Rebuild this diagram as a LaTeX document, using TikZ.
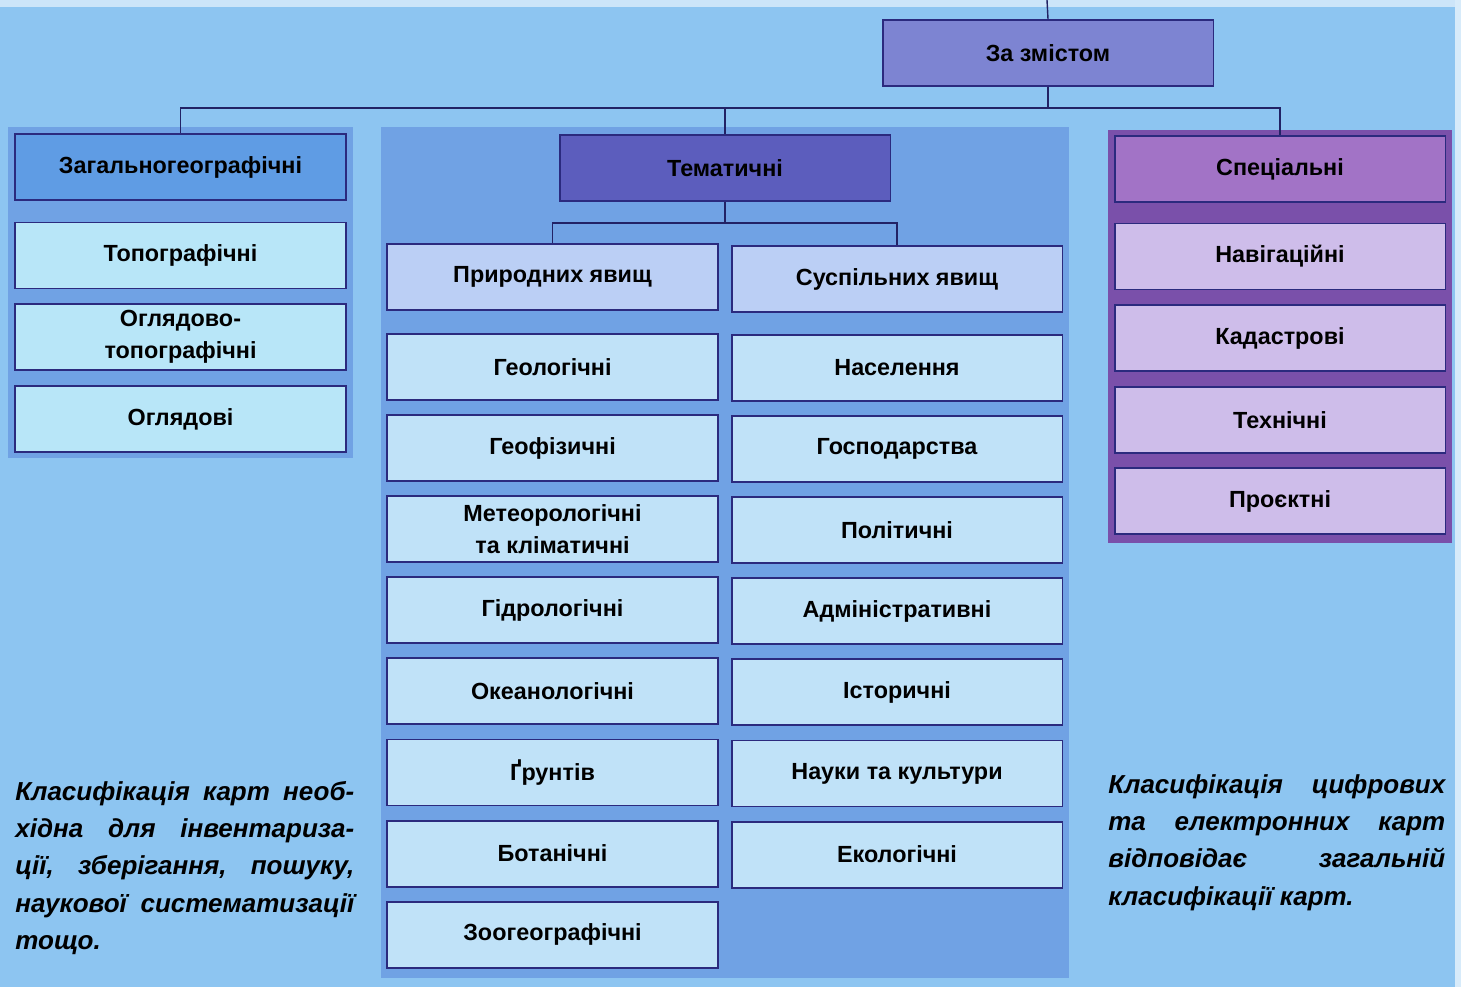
\documentclass[tikz,border=0pt]{standalone}
\usepackage{fontspec}
\setmainfont{Liberation Sans}
\usetikzlibrary{positioning}

\definecolor{bgblue}{HTML}{8DC5F1}
\definecolor{panelblue}{HTML}{70A2E4}
\definecolor{panelviolet}{HTML}{7A50AA}
\definecolor{navy}{HTML}{2B2A7E}
\definecolor{rootfill}{HTML}{7D84D2}
\definecolor{genfill}{HTML}{5F9CE4}
\definecolor{themfill}{HTML}{5C5DBD}
\definecolor{specfill}{HTML}{A273C6}
\definecolor{cyanfill}{HTML}{B8E6F8}
\definecolor{paleblue}{HTML}{C0E2F8}
\definecolor{lavender}{HTML}{BBCFF5}
\definecolor{lilac}{HTML}{CEBDEA}

\tikzset{
  box/.style={draw=navy, line width=1.1pt, minimum width=6.62cm, minimum height=1.32cm,
    inner sep=0pt, align=center, font=\bfseries\fontsize{13.3}{18}\selectfont},
  conn/.style={draw=navy!80!black, line width=0.8pt},
  note/.style={inner sep=0pt, align=justify, anchor=base west,
    font=\bfseries\itshape\fontsize{14.8}{21.3}\selectfont}
}

\begin{document}
\begin{tikzpicture}[x=0.02cm,y=-0.02cm]
\useasboundingbox (0,0) rectangle (1461,987);
\fill[bgblue] (0,0) rectangle (1461,987);
\fill[white!55!bgblue] (0,0) rectangle (1461,7);
\fill[white!65!bgblue] (1455,0) rectangle (1461,987);

% panels
\fill[panelblue] (8,127) rectangle (353,458);
\fill[panelblue] (381,127) rectangle (1069,978);
\fill[panelviolet] (1108,130) rectangle (1452,543);

% top levels
\node[box, fill=rootfill] (zm) at (1048,53) {За змістом};
\node[box, fill=genfill] (zg) at (180.5,167) {Загальногеографічні};
\node[box, fill=themfill] (tem) at (725,168) {Тематичні};
\node[box, fill=specfill] (sp) at (1280,169) {Спеціальні};
\node[box, fill=lavender] (pryr) at (552.5,277) {Природних явищ};
\node[box, fill=lavender] (susp) at (897,279) {Суспільних явищ};

% general maps
\node[box, fill=cyanfill] (topo) at (180.5,255.5) {Топографічні};
\node[box, fill=cyanfill] (ohltopo) at (180.5,337) {Оглядово-\\топографічні};
\node[box, fill=cyanfill] (ohl) at (180.5,419) {Оглядові};

% thematic maps
\foreach \name/\txt [count=\i] in {geol/Геологічні, geof/Геофізичні,
    meteo/{Метеорологічні\\та кліматичні}, hydro/Гідрологічні, ocean/Океанологічні,
    grunt/Ґрунтів, bot/Ботанічні, zoo/Зоогеографічні}
  \node[box, fill=paleblue] (\name) at (552.5,{367+81.1*(\i-1)}) {\txt};
\foreach \name/\txt [count=\i] in {nasel/Населення, hosp/Господарства, polit/Політичні,
    admin/Адміністративні, hist/Історичні, nauk/Науки та культури, ekol/Екологічні}
  \node[box, fill=paleblue] (\name) at (897,{368+81.1*(\i-1)}) {\txt};

% special maps
\node[box, fill=lilac] (nav) at (1280,256.5) {Навігаційні};
\node[box, fill=lilac] (kad) at (1280,338) {Кадастрові};
\node[box, fill=lilac] (tekh) at (1280,420) {Технічні};
\node[box, fill=lilac] (proekt) at (1280,501) {Проєктні};

% connectors
\coordinate (top) at (1047,0);
\draw[conn] (top) -- (zm.north);
\draw[conn] (zm.south) -- ++(0,21) -| (zg.north);
\draw[conn] (zm.south) -- ++(0,21) -| (tem.north);
\draw[conn] (zm.south) -- ++(0,21) -| (sp.north);
\draw[conn] (tem.south) -- ++(0,21) -| (pryr.north);
\draw[conn] (tem.south) -- ++(0,21) -| (susp.north);

% notes
\node[note, text width=6.78cm] (noteL) at (15,800)
  {Класифікація карт необ-\linebreak хідна для інвентариза-\linebreak
   ції, зберігання, пошуку,\linebreak наукової систематизації\linebreak тощо.};
\node[note, text width=6.74cm] (noteR) at (1108,793)
  {Класифікація цифрових\linebreak та електронних карт\linebreak
   відповідає загальній\linebreak класифікації карт.};
\end{tikzpicture}
\end{document}
